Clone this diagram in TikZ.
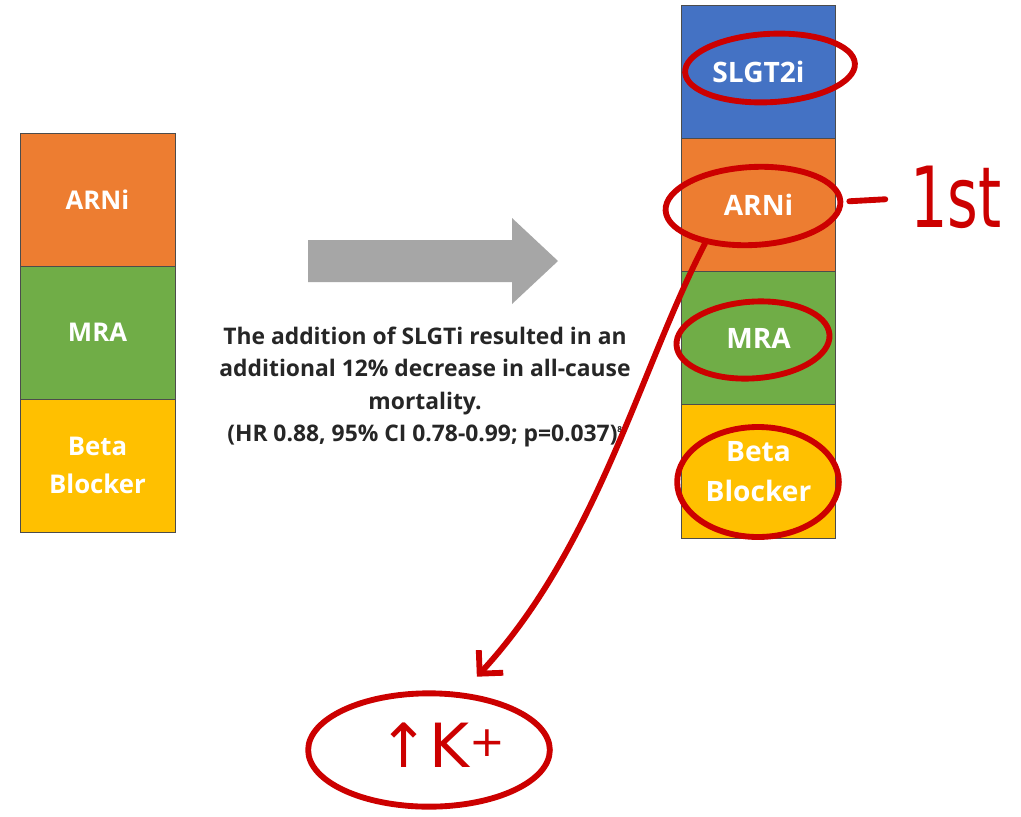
\documentclass[tikz,border=0pt]{standalone}
\usepackage{fontspec}
\setmainfont{Open Sans}
\newfontfamily\handfont{DejaVu Sans}
\usetikzlibrary{shapes.geometric,arrows.meta}

\definecolor{arniorange}{HTML}{ED7D31}
\definecolor{mragreen}{HTML}{70AD47}
\definecolor{betayellow}{HTML}{FFC000}
\definecolor{slgtblue}{HTML}{4472C4}
\definecolor{arrowgray}{HTML}{A6A6A6}
\definecolor{pen}{HTML}{CC0000}

\tikzset{
  drugbox/.style={draw=black!70, line width=0.6pt, fill=#1, text=white,
    inner sep=0pt, outer sep=0pt, minimum width=46.5mm, minimum height=39.9mm,
    align=center, font=\bfseries\fontsize{22}{32}\selectfont},
  bigbox/.style={drugbox=#1, minimum width=46mm, minimum height=40mm,
    font=\bfseries\fontsize{24}{34}\selectfont},
  pen/.style={draw=pen, line width=5pt, line cap=round, line join=round},
  ring/.style={pen, ellipse, inner sep=0pt},
  handtext/.style={text=pen, inner sep=0pt, font=\handfont}
}

\begin{document}
\begin{tikzpicture}[x=0.3mm, y=-0.3mm]
    \useasboundingbox (0,0) rectangle (1021,816);
    \fill[white] (0,0) rectangle (1021,816);

    % Left stack
    \node[drugbox=arniorange] (larni) at (97.5,199.5) {ARNi};
    \node[drugbox=mragreen] (lmra) at (97.5,332.5) {MRA};
    \node[drugbox=betayellow] (lbeta) at (97.5,465.5) {Beta\\Blocker};

    % Gray arrow
    \fill[arrowgray] (308,240) -- (512,240) -- (512,218) -- (558,261)
        -- (512,304) -- (512,282) -- (308,282) -- cycle;

    % Result text
    \node[font=\bfseries\fontsize{19.5}{27.5}\selectfont, text=black!85,
        align=center, anchor=north, inner sep=0pt] (result) at (425,327)
        {The addition of SLGTi resulted in an\\
         additional 12\% decrease in all-cause\\
         mortality.\\
         (HR 0.88, 95\% CI 0.78-0.99; p=0.037)\textsuperscript{\fontsize{7}{7}\selectfont 8}};

    % Right stack
    \node[bigbox=slgtblue] (rslgt) at (758.5,71.6) {SLGT2i};
    \node[bigbox=arniorange] (rarni) at (758.5,204.9) {ARNi};
    \node[bigbox=mragreen] (rmra) at (758.5,338.1) {MRA};
    \node[bigbox=betayellow] (rbeta) at (758.5,471.4) {Beta\\Blocker};

    % Red rings
    \node[ring, minimum width=51mm, minimum height=20.5mm, rotate=3] (ringslgt) at (770,68) {};
    \node[ring, minimum width=52.5mm, minimum height=23.4mm, rotate=3] (ringarni) at (753,206) {};
    \node[ring, minimum width=46mm, minimum height=23mm, rotate=4] (ringmra) at (753,340) {};
    \node[ring, minimum width=48.5mm, minimum height=33mm] (ringbeta) at (758,482) {};
    \node[ring, minimum width=72.5mm, minimum height=34mm] (ringk) at (429,750) {};

    % 1st
    \draw[pen] ([xshift=1.8mm]ringarni.east) -- ++(36,-2);
    \node[handtext, anchor=west] (first) at (910,197)
        {\fontsize{72}{72}\selectfont\scalebox{0.7}[1]{1st}};

    % Arrow down to the potassium ring
    \draw[pen, -{Straight Barb[length=5mm, width=10mm]}, shorten >=6.5mm]
        (ringarni.215) .. controls (640,369) and (597,547) .. (ringk.60);
    \node[handtext] (kplus) at (442,745)
        {\fontsize{52}{52}\selectfont ↑K\textsuperscript{+}};
\end{tikzpicture}
\end{document}
